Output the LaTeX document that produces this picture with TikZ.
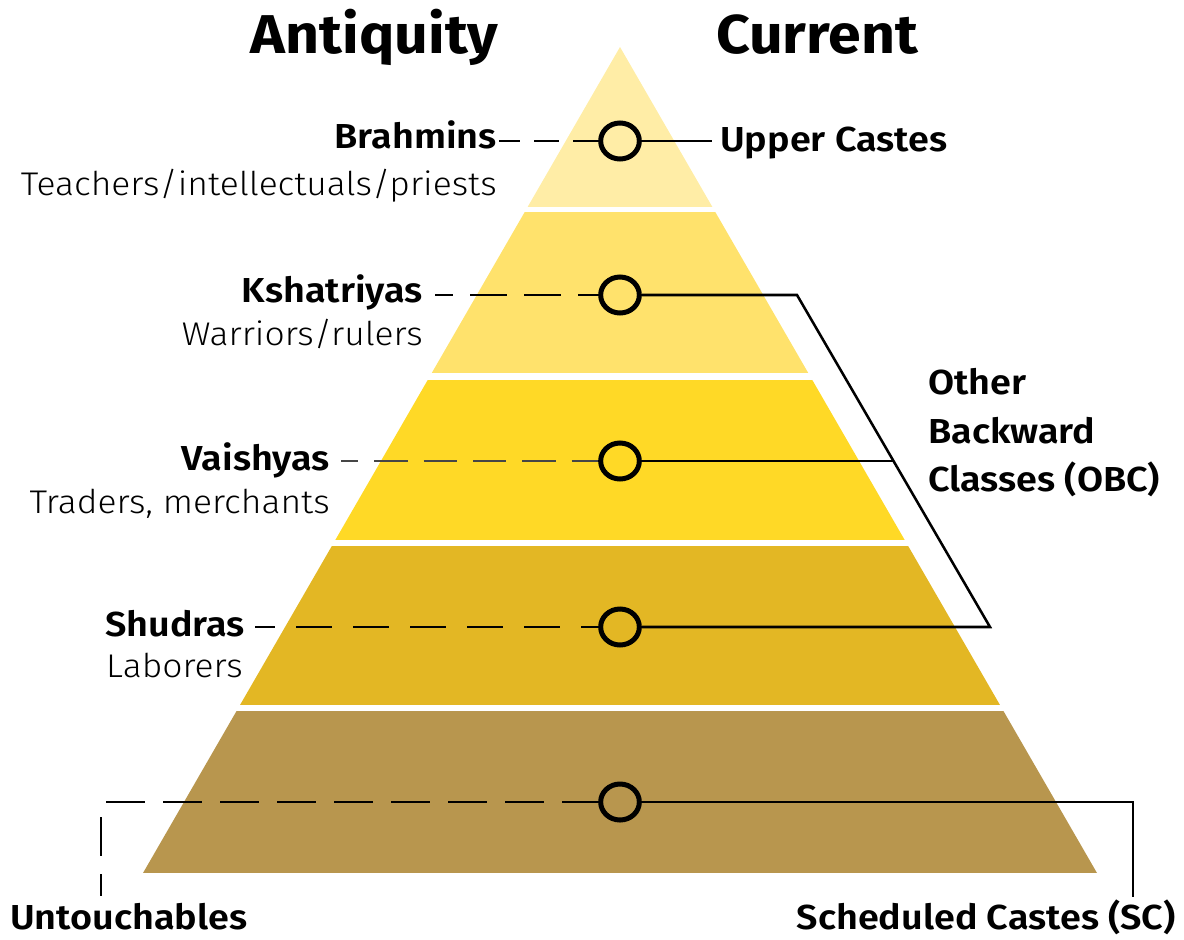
\documentclass[tikz,border=0pt]{standalone}
\usepackage{fontspec}
\setmainfont{Fira Sans}
\newfontfamily\lightf{Fira Sans Light}[FakeStretch=1.08]
\newfontfamily\semif{Fira Sans SemiBold}[FakeStretch=1.09]
\newfontfamily\ttlf{Fira Sans Bold}[FakeStretch=1.08]
\usetikzlibrary{calc,shapes.geometric}
\definecolor{bone}{RGB}{255,237,166}
\definecolor{btwo}{RGB}{255,226,108}
\definecolor{bthree}{RGB}{255,217,38}
\definecolor{bfour}{RGB}{227,183,36}
\definecolor{bfive}{RGB}{184,150,78}
\definecolor{lgray}{RGB}{70,70,70}
\tikzset{
  ttl/.style={font=\ttlf\fontsize{41}{48}\selectfont, inner sep=0pt},
  lab/.style={font=\semif\fontsize{26}{31}\selectfont, inner sep=0pt},
  desc/.style={font=\lightf\fontsize{24.6}{29}\selectfont, inner sep=0pt},
  ring/.style={ellipse, draw=black, line width=3.75pt, minimum width=29pt, minimum height=27pt, inner sep=0pt},
  conn/.style={draw=black, line width=1.9pt},
  dsh/.style={draw=black, line width=1.9pt},
}
\begin{document}
\begin{tikzpicture}[x=0.75pt, y=-0.75pt]
\useasboundingbox (0,0) rectangle (1184,939);
% pyramid
\begin{scope}
  \clip (620,47) -- (143,873) -- (1097,873) -- cycle;
  \fill[bone]   (0,0)   rectangle (1184,207);
  \fill[btwo]   (0,212) rectangle (1184,373);
  \fill[bthree] (0,380) rectangle (1184,540);
  \fill[bfour]  (0,546) rectangle (1184,705);
  \fill[bfive]  (0,711) rectangle (1184,873);
\end{scope}
% titles
\node[ttl, anchor=base] (ant) at (374.5,53) {Antiquity};
\node[ttl, anchor=base] (cur) at (817,53) {Current};
% rings
\node[ring] (c1) at (620,141) {};
\node[ring] (c2) at (620,295) {};
\node[ring] (c3) at (620,461) {};
\node[ring] (c4) at (620,627) {};
\node[ring] (c5) at (620,802) {};
% left labels
\node[lab, anchor=base east] (brah) at (497,148) {Brahmins};
\node[desc, anchor=base east] (brahd) at (497,195) {Teachers/intellectuals/priests};
\node[lab, anchor=base east] (ksha) at (423,302) {Kshatriyas};
\node[desc, anchor=base east] (kshad) at (423,345) {Warriors/rulers};
\node[lab, anchor=base east] (vais) at (330,470) {Vaishyas};
\node[desc, anchor=base east] (vaisd) at (330,513) {Traders, merchants};
\node[lab, anchor=base east] (shud) at (245,636) {Shudras};
\node[desc, anchor=base east] (shudd) at (243,677) {Laborers};
\node[lab, anchor=base west] (unt) at (10,929) {Untouchables};
% right labels
\node[lab, anchor=base west] (upc) at (720,151) {Upper Castes};
\node[lab, anchor=north west, align=left, font=\semif\fontsize{26}{36.4}\selectfont] (obc) at (928,368) {Other\\Backward\\Classes (OBC)};
\node[lab, anchor=base east] (sc) at (1176,929) {Scheduled Castes (SC)};
% dashed connectors
\draw[dsh, dash pattern=on 18.75pt off 10.5pt, dash phase=3pt] ($(c1 -| brah.east)+(2,0)$) -- (c1.west);
\draw[dsh, dash pattern=on 27.75pt off 12.75pt, dash phase=14.25pt] ($(c2 -| ksha.east)+(12,0)$) -- (c2.west);
\draw[draw=lgray, line width=1.3pt, dash pattern=on 25pt off 12pt, dash phase=12pt] ($(c3 -| vais.east)+(11,0)$) -- (c3.west);
\draw[dsh, dash pattern=on 27pt off 15.75pt, dash phase=12pt] ($(c4 -| shud.east)+(10,0)$) -- (c4.west);
\coordinate (u1) at (106,802);
\coordinate (u2) at (101,817);
\coordinate (u3) at (101,896);
\draw[dsh, line width=1.5pt, dash pattern=on 29.25pt off 13.5pt] (u1) -- (c5.west);
\draw[dsh, line width=1.5pt, dash pattern=on 29.25pt off 13.5pt] (u2) -- (u3);
% solid connectors
\draw[conn] (c1.east) -- ($(c1 -| upc.west)+(-8,0)$);
\coordinate (k1) at (797,295);
\coordinate (k2) at (990,627);
\path (k1) -- (k2) coordinate[pos=0.5] (k3);
\draw[conn, line join=miter] (c2.east) -- (k1) -- (k2) -- (c4.east);
\draw[conn] (c3.east) -- (k3);
\coordinate (s1) at (1133,802);
\coordinate (s2) at (1133,897);
\draw[conn, line join=miter] (c5.east) -- (s1) -- (s2);
\end{tikzpicture}
\end{document}
